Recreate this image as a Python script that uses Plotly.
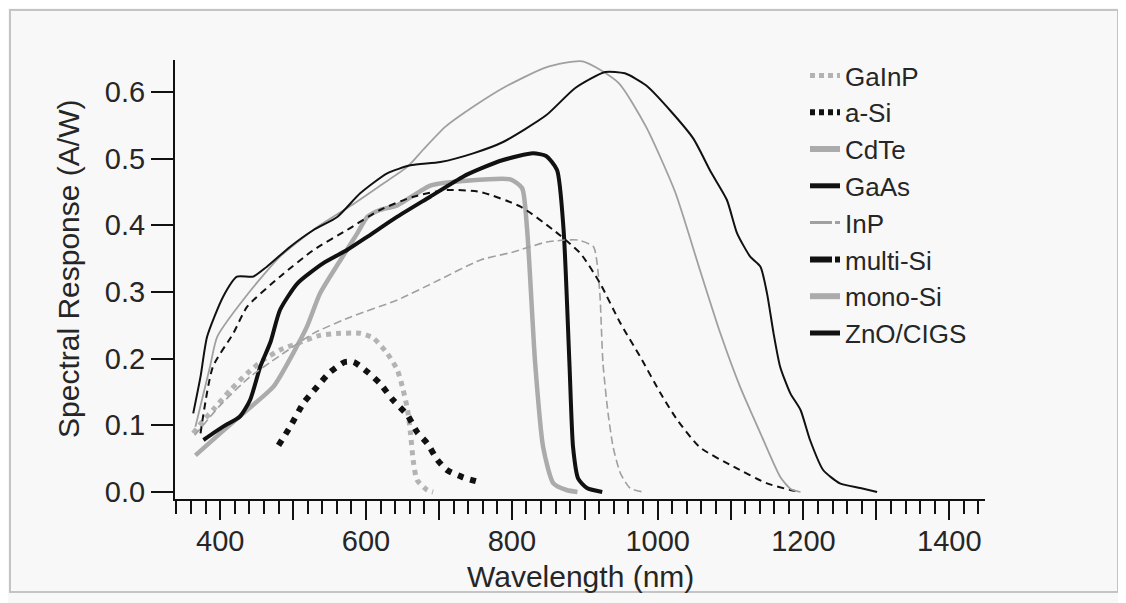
import plotly.graph_objects as go

# ---------------- data ----------------
gainp_nm = [363, 375, 390, 414, 437, 459, 482, 506, 537, 565, 592, 610, 629, 643, 651, 657, 661, 665, 670, 684, 692]
gainp_sr = [0.088, 0.105, 0.123, 0.153, 0.178, 0.198, 0.213, 0.223, 0.235, 0.238, 0.238, 0.231, 0.208, 0.183, 0.153, 0.123, 0.088, 0.045, 0.018, 0.003, 0.0]

asi_nm = [480, 496, 514, 533, 551, 571, 583, 602, 619, 637, 657, 670, 684, 698, 711, 733, 755]
asi_sr = [0.07, 0.098, 0.133, 0.158, 0.18, 0.195, 0.195, 0.18, 0.163, 0.138, 0.115, 0.09, 0.073, 0.048, 0.033, 0.022, 0.015]

cdte_nm = [366, 400, 437, 473, 500, 519, 537, 565, 588, 602, 619, 643, 689, 739, 798, 814, 821, 832, 843, 857, 875, 890]
cdte_sr = [0.055, 0.088, 0.123, 0.158, 0.208, 0.248, 0.298, 0.348, 0.388, 0.413, 0.423, 0.43, 0.46, 0.467, 0.469, 0.456, 0.393, 0.193, 0.067, 0.013, 0.003, 0.0]

gaas_nm = [377, 404, 427, 441, 455, 469, 482, 506, 541, 574, 602, 643, 688, 733, 757, 788, 829, 847, 862, 871, 879, 884, 891, 903, 924]
gaas_sr = [0.078, 0.098, 0.113, 0.138, 0.188, 0.225, 0.273, 0.313, 0.343, 0.363, 0.383, 0.413, 0.443, 0.473, 0.485, 0.498, 0.508, 0.504, 0.483, 0.393, 0.193, 0.067, 0.02, 0.006, 0.0]

inp_nm = [365, 400, 440, 480, 528, 580, 643, 700, 757, 802, 848, 890, 912, 917, 921, 925, 932, 939, 949, 962, 980]
inp_sr = [0.085, 0.13, 0.172, 0.203, 0.238, 0.263, 0.288, 0.318, 0.348, 0.36, 0.375, 0.378, 0.368, 0.343, 0.293, 0.193, 0.118, 0.067, 0.028, 0.006, 0.0]

multisi_nm = [373, 390, 418, 437, 482, 528, 574, 619, 665, 711, 757, 812, 857, 894, 921, 949, 976, 1004, 1027, 1058, 1104, 1150, 1182, 1195]
multisi_sr = [0.088, 0.188, 0.238, 0.278, 0.323, 0.363, 0.393, 0.423, 0.443, 0.453, 0.45, 0.428, 0.393, 0.358, 0.313, 0.253, 0.203, 0.148, 0.108, 0.067, 0.038, 0.013, 0.003, 0.0]

monosi_nm = [366, 386, 396, 440, 482, 530, 580, 620, 657, 678, 709, 750, 788, 847, 897, 946, 984, 1024, 1058, 1086, 1113, 1141, 1168, 1182, 1196]
monosi_sr = [0.098, 0.188, 0.233, 0.3, 0.353, 0.395, 0.43, 0.46, 0.488, 0.513, 0.548, 0.58, 0.606, 0.637, 0.646, 0.614, 0.548, 0.45, 0.333, 0.238, 0.158, 0.088, 0.023, 0.005, 0.0]

cigs_nm = [363, 373, 382, 404, 423, 445, 464, 496, 528, 561, 592, 629, 661, 702, 747, 788, 847, 887, 928, 955, 984, 1019, 1049, 1073, 1095, 1109, 1127, 1141, 1150, 1159, 1168, 1182, 1196, 1209, 1227, 1250, 1278, 1301]
cigs_sr = [0.118, 0.173, 0.233, 0.293, 0.323, 0.323, 0.338, 0.368, 0.393, 0.413, 0.448, 0.478, 0.49, 0.495, 0.508, 0.525, 0.565, 0.606, 0.63, 0.628, 0.61, 0.57, 0.53, 0.48, 0.438, 0.388, 0.353, 0.338, 0.298, 0.238, 0.188, 0.148, 0.123, 0.078, 0.033, 0.013, 0.006, 0.0]

x_tickvals = [400, 500, 600, 700, 800, 900, 1000, 1100, 1200, 1300, 1400]
x_ticktext = ["400", "", "600", "", "800", "", "1000", "", "1200", "", "1400"]
y_tickvals = [0.0, 0.1, 0.2, 0.3, 0.4, 0.5, 0.6]

GRAY = "#ababab"
GRAY2 = "#a0a0a0"
BLACK = "#111111"

# (name, x, y, plot-line style, legend-line style)
series = [
    ("GaInP", gainp_nm, gainp_sr, dict(color="#b3b3b3", width=5, dash="5px,5px"), dict(color="#b3b3b3", width=5, dash="5px,4px")),
    ("a-Si", asi_nm, asi_sr, dict(color=BLACK, width=6, dash="6px,7px"), dict(color=BLACK, width=6, dash="5px,4px")),
    ("CdTe", cdte_nm, cdte_sr, dict(color=GRAY, width=4.5), dict(color=GRAY, width=6)),
    ("GaAs", gaas_nm, gaas_sr, dict(color=BLACK, width=4), dict(color=BLACK, width=5)),
    ("InP", inp_nm, inp_sr, dict(color=GRAY2, width=1.6, dash="8px,4px"), dict(color=GRAY2, width=3, dash="22px,3px,5px")),
    ("multi-Si", multisi_nm, multisi_sr, dict(color=BLACK, width=2, dash="7px,5px"), dict(color=BLACK, width=6, dash="22px,3px,5px")),
    ("mono-Si", monosi_nm, monosi_sr, dict(color=GRAY2, width=1.8), dict(color=GRAY, width=6)),
    ("ZnO/CIGS", cigs_nm, cigs_sr, dict(color=BLACK, width=2), dict(color=BLACK, width=5)),
]

fig = go.Figure()
for name, xs, ys, pstyle, lstyle in series:
    fig.add_trace(go.Scatter(x=xs, y=ys, mode="lines", name=name, legendgroup=name,
                             showlegend=False, line=dict(shape="spline", smoothing=0.6, **pstyle)))
for name, xs, ys, pstyle, lstyle in series:
    fig.add_trace(go.Scatter(x=[None], y=[None], mode="lines", name=name, legendgroup=name,
                             showlegend=True, line=lstyle))

FONT = "Liberation Sans, Arial, sans-serif"
TXT = "#262626"

# page body has an 8px margin: the figure is drawn 8px in from the window corner
L, T, PW, PH = 167, 52, 810, 439
fig.update_layout(
    width=1118, height=595,
    margin=dict(l=L, r=1118 - L - PW, t=T, b=595 - T - PH),
    paper_bgcolor="#f8f8f8", plot_bgcolor="#f8f8f8",
    font=dict(family=FONT, size=29, color=TXT),
    showlegend=True,
    legend=dict(x=(797 - L) / PW, y=(T + PH - 44) / PH, xanchor="left", yanchor="top",
                bgcolor="rgba(0,0,0,0)", font=dict(size=26, family=FONT, color=TXT),
                tracegroupgap=0, itemwidth=30, maxheight=500),
    xaxis=dict(range=[338, 1449], showgrid=False, zeroline=False,
               showline=True, linecolor="#111111", linewidth=2,
               tickmode="array", tickvals=x_tickvals, ticktext=x_ticktext,
               ticks="outside", ticklen=19, tickwidth=2, tickcolor="#111111",
               ticklabelstandoff=-4,
               tickfont=dict(size=29, family=FONT, color=TXT),
               minor=dict(dtick=20, tick0=0, ticks="outside", ticklen=13, tickwidth=2,
                          tickcolor="#111111", showgrid=False)),
    yaxis=dict(range=[-0.0105, 0.648], showgrid=False, zeroline=False,
               showline=True, linecolor="#111111", linewidth=2,
               tickmode="array", tickvals=y_tickvals, tickformat=".1f",
               ticks="outside", ticklen=22, tickwidth=2, tickcolor="#111111",
               tickfont=dict(size=29, family=FONT, color=TXT)),
    annotations=[
        dict(text="Wavelength (nm)", xref="paper", yref="paper", x=0.5, y=(491 - 568) / PH,
             xanchor="center", yanchor="middle", showarrow=False,
             font=dict(size=30, family=FONT, color=TXT)),
        dict(text="Spectral Response (A/W)", xref="paper", yref="paper", x=(60 - L) / PW,
             y=(491 - 261) / PH, xanchor="center", yanchor="middle", textangle=-90,
             showarrow=False, font=dict(size=30, family=FONT, color=TXT)),
    ],
    shapes=[
        dict(type="rect", xref="paper", yref="paper",
             x0=(2 - L) / PW, x1=(1110 - L) / PW,
             y0=(491 - 584) / PH, y1=(491 - 2) / PH,
             line=dict(color="#c4c4c4", width=2), fillcolor="rgba(0,0,0,0)", layer="below"),
    ],
)

fig.write_html("out.html")
